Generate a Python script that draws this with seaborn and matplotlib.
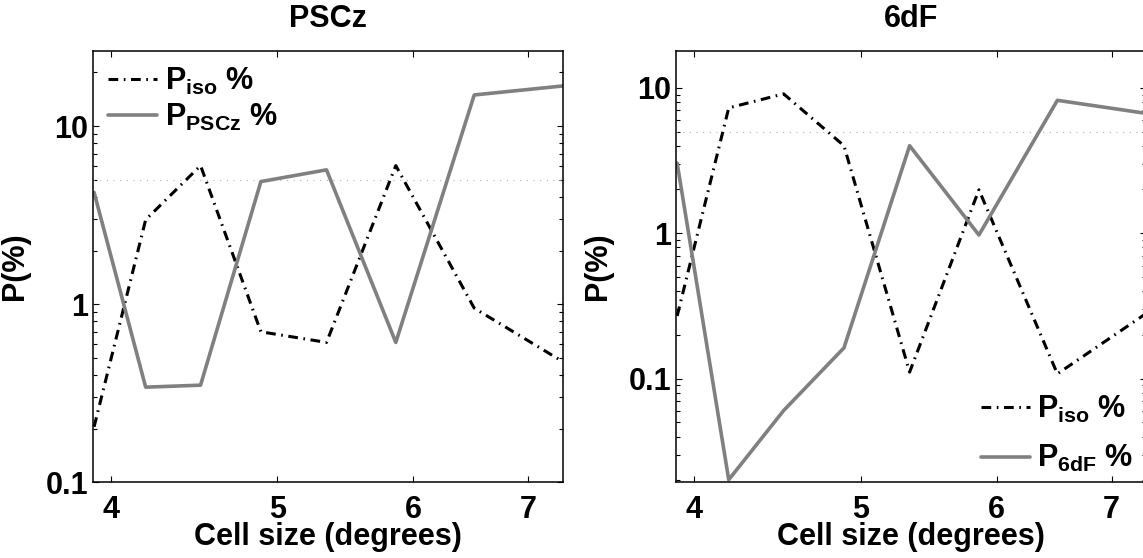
import numpy as np
import pandas as pd
import matplotlib
matplotlib.use("Agg")
import matplotlib.pyplot as plt
import matplotlib.ticker as mticker
import seaborn as sns

# ---- data ----
cell_size = [3.91, 4.19, 4.51, 4.89, 5.34, 5.86, 6.51, 7.33]
pscz_iso = [0.205, 2.98, 6.0, 0.70, 0.61, 6.0, 0.95, 0.476]
pscz_p = [4.24, 0.342, 0.351, 4.88, 5.68, 0.61, 14.96, 16.8]
sixdf_iso = [0.27, 7.28, 9.09, 4.0, 0.111, 1.99, 0.108, 0.28]
sixdf_p = [3.04, 0.0202, 0.0604, 0.163, 4.0, 0.973, 8.21, 6.68]
x_ticks = [4, 5, 6, 7]
x_ticklabels = ["4", "5", "6", "7"]
y_ticks = [0.1, 1, 10]
y_ticklabels = ["0.1", "1", "10"]
threshold = 5.0

sns.set_theme(style="white")
plt.rcParams["font.family"] = ["Liberation Sans", "DejaVu Sans"]
plt.rcParams["font.weight"] = "bold"
plt.rcParams["text.color"] = "black"
plt.rcParams["axes.labelcolor"] = "black"
plt.rcParams["xtick.color"] = "black"
plt.rcParams["ytick.color"] = "black"
plt.rcParams["mathtext.fontset"] = "custom"
plt.rcParams["mathtext.rm"] = "Liberation Sans:bold"
plt.rcParams["mathtext.bf"] = "Liberation Sans:bold"
plt.rcParams["mathtext.it"] = "Liberation Sans:bold"
plt.rcParams["lines.scale_dashes"] = False

FS = 22
GRAY = "#808080"
DASHDOT = (0, (7, 4, 1.2, 4))

fig = plt.figure(figsize=(11.43, 5.58), dpi=100)
axL = fig.add_axes([0.0815, 0.1357, 0.4108, 0.7734])
axR = fig.add_axes([0.5916, 0.1357, 0.4109, 0.7734])

df_l = pd.DataFrame({"x": cell_size, "iso": pscz_iso, "p": pscz_p})
df_r = pd.DataFrame({"x": cell_size, "iso": sixdf_iso, "p": sixdf_p})

panels = [
    (axL, df_l, "PSCz", r"$\mathbf{P_{PSCz}}$ %", (0.1, 26.5)),
    (axR, df_r, "6dF", r"$\mathbf{P_{6dF}}$ %", (0.0194, 18.0)),
]

for ax, df, title, lab, ylim in panels:
    ax.axhline(threshold, color="#b0b0b0", lw=0.8, ls=(0, (0.8, 4)), zorder=1)
    sns.lineplot(data=df, x="x", y="iso", ax=ax, color="black", lw=2.2,
                 linestyle=DASHDOT, label=r"$\mathbf{P_{iso}}$ %")
    sns.lineplot(data=df, x="x", y="p", ax=ax, color=GRAY, lw=2.6,
                 label=lab)
    ax.set_xscale("log")
    ax.set_yscale("log")
    ax.set_xlim(3.905, 7.33)
    ax.set_ylim(*ylim)
    ax.xaxis.set_major_locator(mticker.FixedLocator(x_ticks))
    ax.xaxis.set_major_formatter(mticker.FixedFormatter(x_ticklabels))
    ax.xaxis.set_minor_locator(mticker.NullLocator())
    ax.yaxis.set_major_locator(mticker.FixedLocator(y_ticks))
    ax.yaxis.set_major_formatter(mticker.FixedFormatter(y_ticklabels))
    ax.yaxis.set_minor_locator(mticker.LogLocator(base=10, subs=np.arange(2, 10)))
    ax.yaxis.set_minor_formatter(mticker.NullFormatter())
    ax.tick_params(which="both", direction="in", top=True, right=True,
                   bottom=True, left=True, color="black", width=0.8)
    ax.tick_params(which="major", length=4, labelsize=FS, labelcolor="black")
    ax.tick_params(which="minor", length=3)
    ax.tick_params(axis="x", which="major", pad=9)
    ax.tick_params(axis="y", which="major", pad=3.5)
    for t in ax.get_xticklabels() + ax.get_yticklabels():
        t.set_fontweight("bold")
    for s in ax.spines.values():
        s.set_color("black")
        s.set_linewidth(1.1)
    ax.set_title(title, fontsize=FS, fontweight="bold", pad=17, color="black")
    ax.set_xlabel("Cell size (degrees)", fontsize=FS, fontweight="bold",
                  labelpad=-2, color="black")
    ax.set_ylabel("P(%)", fontsize=FS, fontweight="bold", labelpad=11,
                  color="black")

axL.legend(loc="upper left", frameon=False, handlelength=1.6,
           handletextpad=0.25, labelspacing=0.15, borderaxespad=0.1,
           prop={"weight": "bold", "size": FS})
axR.legend(loc="lower right", frameon=False, handlelength=1.6,
           handletextpad=0.25, labelspacing=0.6, borderaxespad=0.0,
           bbox_to_anchor=(1.0, -0.01),
           prop={"weight": "bold", "size": FS})

fig.savefig("out.png", dpi=100)
